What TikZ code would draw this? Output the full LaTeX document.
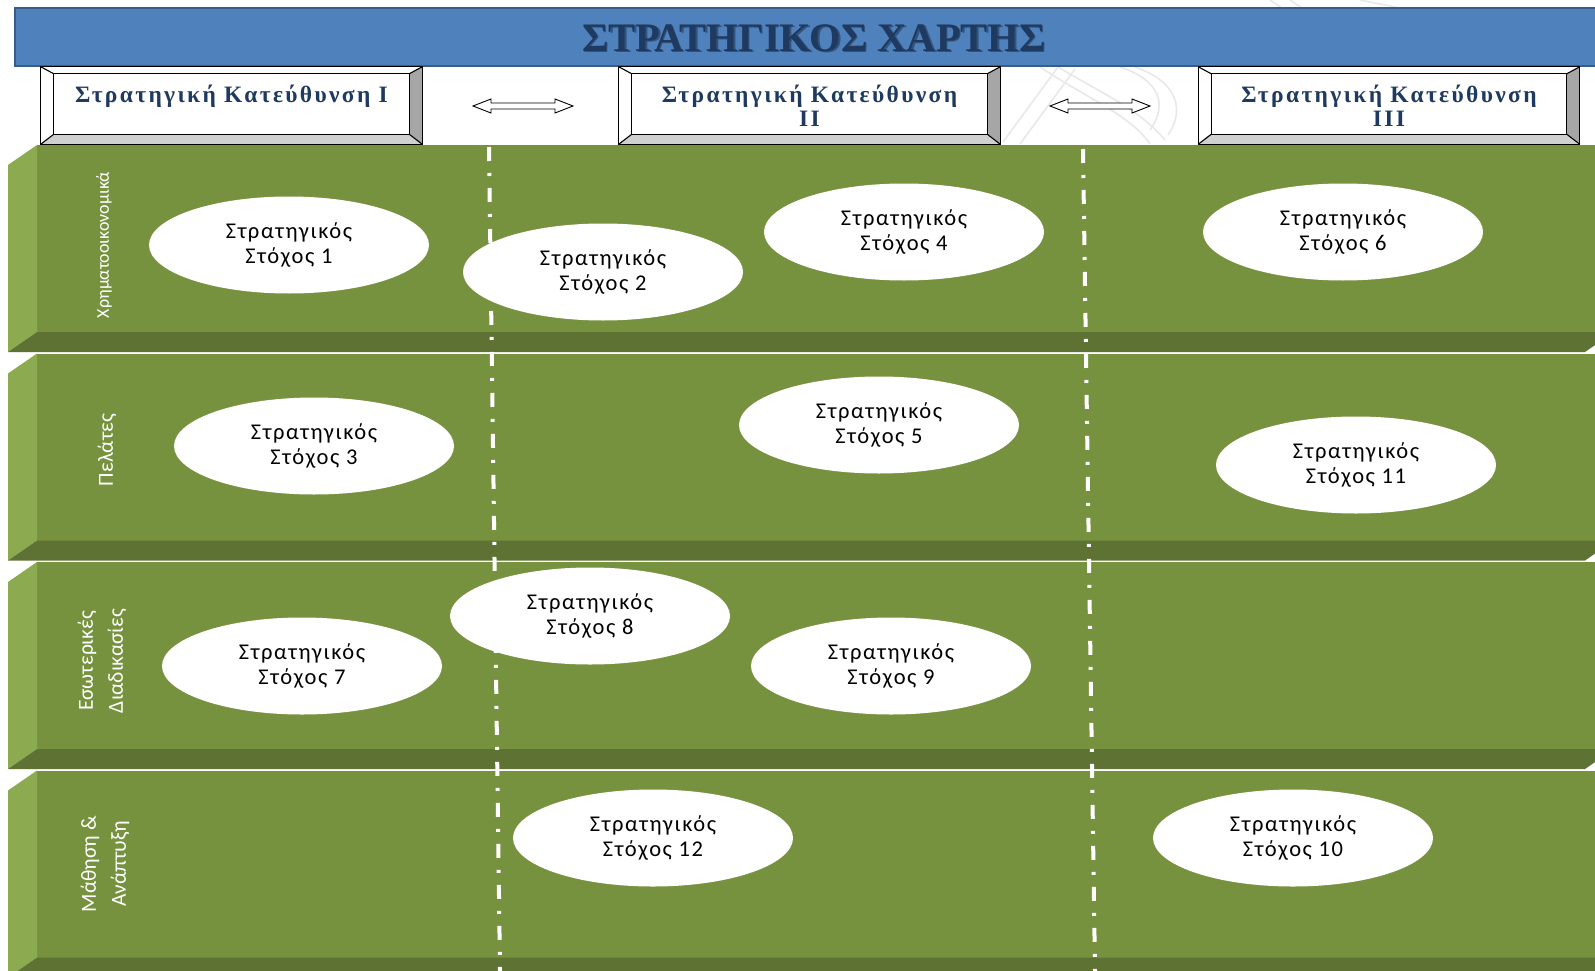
\documentclass[tikz,border=0pt]{standalone}
\usepackage{fontspec}
\setmainfont{Liberation Serif}
\newfontfamily\headfont[LetterSpace=10]{Liberation Serif}
\newfontfamily\goalfont[LetterSpace=7]{Carlito}
\newfontfamily\lanefont{Carlito}
\usetikzlibrary{shapes.geometric,calc}

\definecolor{bandfront}{HTML}{77923F}
\definecolor{bandside}{HTML}{8CAA4F}
\definecolor{bandbase}{HTML}{5E7234}
\definecolor{titlefill}{HTML}{4F81BD}
\definecolor{titleedge}{HTML}{385D8A}
\definecolor{titleink}{HTML}{1F3A60}
\definecolor{headink}{HTML}{1F3A60}
\definecolor{bevelright}{HTML}{A6A6A6}
\definecolor{bevelbottom}{HTML}{D0D0D0}

\tikzset{
  goal/.style={ellipse, fill=white, minimum width=280pt, minimum height=97pt,
    inner sep=0pt, align=center, text=black,
    font=\goalfont\fontsize{22.5}{25.4}\selectfont},
  lane/.style={rotate=90, text=white, align=center, inner sep=0pt,
    font=\lanefont\fontsize{21.5}{30}\selectfont},
  headin/.style={minimum width=355pt, minimum height=60pt, inner sep=0pt},
  headtext/.style={anchor=north, align=center, inner sep=0pt, text=headink,
    font=\headfont\bfseries\fontsize{23.5}{24}\selectfont},
  bevelline/.style={draw=black, line width=1.1pt},
  twoway/.style={draw=black, fill=white, line width=0.9pt, line join=miter},
  divider/.style={draw=white, line width=4pt,
    dash pattern=on 14pt off 12pt on 3pt off 12pt},
  faint/.style={draw=black!9, line width=1.6pt},
}

\begin{document}
\begin{tikzpicture}[x=1pt,y=-1pt]
\useasboundingbox (0,0) rectangle (1595,971);
\clip (0,0) rectangle (1595,971);
\fill[white] (0,0) rectangle (1595,971);

% faint background logo strokes
\draw[faint] (1003,142) -- (1058,67);
\draw[faint] (1020,144) -- (1075,69);
\draw[faint] (1040,67) .. controls (1090,100) and (1130,115) .. (1150,144);
\draw[faint] (1058,67) .. controls (1105,95) and (1140,110) .. (1165,140);
\draw[faint] (1120,67) .. controls (1160,80) and (1168,105) .. (1150,130);
\draw[faint] (1135,67) .. controls (1178,82) and (1185,110) .. (1168,135);
\draw[faint] (1270,0) -- (1282,8);
\draw[faint] (1290,0) -- (1302,8);
\draw[faint] (1360,0) .. controls (1380,4) .. (1400,8);

% title bar
\fill[titlefill] (15,8) rectangle (1620,66);
\draw[titleedge, line width=2pt] (1620,8) -- (15,8) -- (15,66) -- (1620,66);
\node[text=black, opacity=0.35, font=\bfseries\fontsize{40.5}{42}\selectfont]
  at (815.5,39.5) {ΣΤΡΑΤΗΓΙΚΟΣ ΧΑΡΤΗΣ};
\node[text=titleink, font=\bfseries\fontsize{40.5}{42}\selectfont]
  (title) at (814,38) {ΣΤΡΑΤΗΓΙΚΟΣ ΧΑΡΤΗΣ};

% bevelled direction boxes (inner faces)
\node[headin] (h1) at (231.5,104) {};
\node[headin] (h2) at (809.5,104) {};
\node[headin] (h3) at (1389,104) {};
\foreach \b in {h1,h2,h3}{
  \coordinate (onw) at ($(\b.north west)+(-13,-7)$);
  \coordinate (one) at ($(\b.north east)+(13,-7)$);
  \coordinate (ose) at ($(\b.south east)+(13,10)$);
  \coordinate (osw) at ($(\b.south west)+(-13,10)$);
  \fill[white] (onw) rectangle (ose);
  \fill[bevelright] (one) -- (ose) -- (\b.south east) -- (\b.north east) -- cycle;
  \fill[bevelbottom] (osw) -- (ose) -- (\b.south east) -- (\b.south west) -- cycle;
  \draw[bevelline] (onw) rectangle (ose);
  \draw[bevelline] (\b.north west) rectangle (\b.south east);
  \draw[bevelline] (onw) -- (\b.north west) (one) -- (\b.north east)
                   (ose) -- (\b.south east) (osw) -- (\b.south west);
}
\node[headtext] (t1) at ([yshift=-11pt]h1.north) {Στρατηγική Κατεύθυνση I};
\node[headtext] (t2) at ([yshift=-11pt]h2.north) {Στρατηγική Κατεύθυνση\\II};
\node[headtext] (t3) at ([yshift=-11pt]h3.north) {Στρατηγική Κατεύθυνση\\III};

% hollow two-way arrows between the boxes
\coordinate (ar1) at (523,106);
\coordinate (ar2) at (1100,106);
\foreach \a in {ar1,ar2}{
  \draw[twoway, shift={(\a)}] (-50,0) -- (-32,-7) -- (-32,-3) -- (32,-3) -- (32,-7)
    -- (50,0) -- (32,7) -- (32,3) -- (-32,3) -- (-32,7) -- cycle;
}

% four perspective lanes
\foreach \t in {145,353.5,562,770.5}{
  \fill[bandfront] (37,\t) rectangle (1614,\t+187);
  \fill[bandside] (37,\t) -- (37,\t+187) -- (8,\t+207) -- (8,\t+20) -- cycle;
  \fill[bandbase] (37,\t+187) -- (1614,\t+187) -- (1585,\t+207) -- (8,\t+207) -- cycle;
}

% lane titles
\node[lane, font=\lanefont\fontsize{18}{30}\selectfont] (l1) at (104,245) {Χρηματοοικονομικά};
\node[lane] (l2) at (107,450) {Πελάτες};
\node[lane] (l3) at (102,661) {Εσωτερικές\\Διαδικασίες};
\node[lane] (l4) at (105,864) {Μάθηση \&\\Ανάπτυξη};

% dash-dot separators between the directions
\coordinate (s1t) at (489,147);
\coordinate (s1b) at (500,971);
\coordinate (s2t) at (1083,149);
\coordinate (s2b) at (1095,971);
\draw[divider] (s1t) -- (s1b);
\draw[divider] (s2t) -- (s2b);

% strategic goals
\node[goal] (g1) at (289,245) {Στρατηγικός\\Στόχος 1};
\node[goal] (g2) at (603,272) {Στρατηγικός\\Στόχος 2};
\node[goal] (g4) at (904,232) {Στρατηγικός\\Στόχος 4};
\node[goal] (g6) at (1343,232) {Στρατηγικός\\Στόχος 6};
\node[goal] (g3) at (314,446) {Στρατηγικός\\Στόχος 3};
\node[goal] (g5) at (879,425) {Στρατηγικός\\Στόχος 5};
\node[goal] (g11) at (1356,465) {Στρατηγικός\\Στόχος 11};
\node[goal] (g8) at (590,616) {Στρατηγικός\\Στόχος 8};
\node[goal] (g7) at (302,666) {Στρατηγικός\\Στόχος 7};
\node[goal] (g9) at (891,666) {Στρατηγικός\\Στόχος 9};
\node[goal] (g12) at (653,838) {Στρατηγικός\\Στόχος 12};
\node[goal] (g10) at (1293,838) {Στρατηγικός\\Στόχος 10};
\end{tikzpicture}
\end{document}
